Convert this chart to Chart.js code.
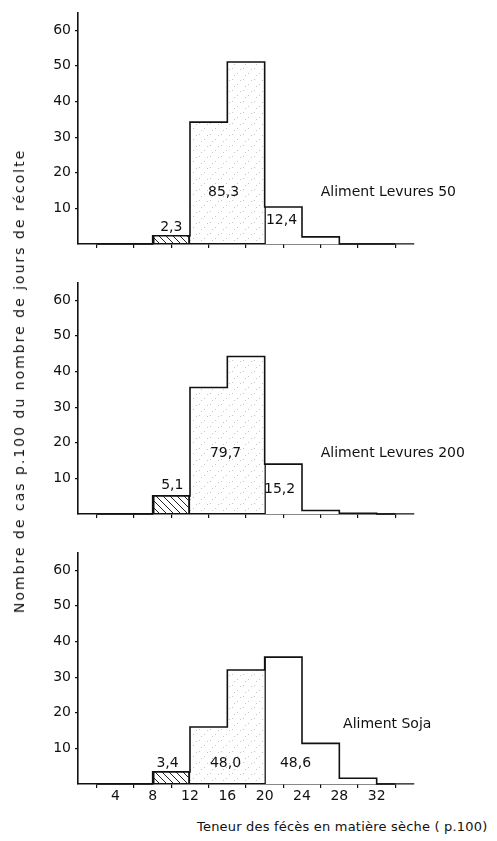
<!DOCTYPE html>
<html>
<head>
<meta charset="utf-8">
<script src="https://cdn.jsdelivr.net/npm/chart.js@4.4.1/dist/chart.umd.min.js"></script>
<style>
  body { margin: 0; background: #fff; width: 497px; height: 841px; position: relative; overflow: hidden; font-family: "DejaVu Sans", sans-serif; color: #111; }
  canvas { position: absolute; left: 0; }
  #ytitle { position: absolute; left: 19px; top: 381px; transform: translate(-50%, -50%) rotate(-90deg); white-space: nowrap; font-size: 14px; letter-spacing: 2px; }
  #xtitle { position: absolute; left: 197px; top: 819px; white-space: nowrap; font-size: 13px; letter-spacing: 0.2px; }
</style>
</head>
<body>
<canvas id="levures50Chart" width="497" height="270" style="top:0px"></canvas>
<canvas id="levures200Chart" width="497" height="270" style="top:270px"></canvas>
<canvas id="sojaChart" width="497" height="270" style="top:540px"></canvas>
<div id="ytitle">Nombre de cas p.100 du nombre de jours de récolte</div>
<div id="xtitle">Teneur des fécès en matière sèche ( p.100)</div>
<script>
// Classes de teneur en matière sèche (début de chaque classe, largeur 4)
const binStarts = [0, 4, 8, 12, 16, 20, 24, 28, 32];

// Nombre de cas p.100 par classe
const levures50 = [0, 0, 2.3, 34.2, 51.1, 10.4, 2.0, 0, 0];
const levures200 = [0, 0, 5.1, 35.5, 44.2, 14.0, 1.0, 0.2, 0];
const soja = [0, 0, 3.4, 16.0, 32.0, 35.6, 11.4, 1.6, 0];

// Totaux par groupe (<12, 12-20, >=20)
const levures50Totals = ['2,3', '85,3', '12,4'];
const levures200Totals = ['5,1', '79,7', '15,2'];
const sojaTotals = ['3,4', '48,0', '48,6'];

const yTicks = [10, 20, 30, 40, 50, 60];
const xTicks = [4, 8, 12, 16, 20, 24, 28, 32];

const ink = '#111';
const font = { family: '"DejaVu Sans", sans-serif', size: 14 };

// motifs : hachures et pointillé
function makeHatch() {
  const c = document.createElement('canvas');
  c.width = 7; c.height = 7;
  const g = c.getContext('2d');
  g.strokeStyle = '#222';
  g.lineWidth = 1;
  g.beginPath();
  g.moveTo(0, 0); g.lineTo(7, 7);
  g.moveTo(-1, 6); g.lineTo(1, 8);
  g.moveTo(6, -1); g.lineTo(8, 1);
  g.stroke();
  return g.createPattern(c, 'repeat');
}
function makeDots() {
  const c = document.createElement('canvas');
  c.width = 11; c.height = 11;
  const g = c.getContext('2d');
  g.fillStyle = 'rgba(0,0,0,0.22)';
  [[1, 2], [6, 7], [9, 3], [3, 9]].forEach(p => g.fillRect(p[0], p[1], 1, 1));
  return g.createPattern(c, 'repeat');
}
const hatch = makeHatch();
const dots = makeDots();

const notesPlugin = {
  id: 'notes',
  afterDatasetsDraw(chart, args, opts) {
    const { ctx, scales: { x, y } } = chart;
    ctx.save();
    ctx.fillStyle = ink;
    ctx.font = '14px "DejaVu Sans", sans-serif';
    ctx.textBaseline = 'middle';
    opts.items.forEach(it => {
      ctx.textAlign = it.align || 'center';
      ctx.fillText(it.text, x.getPixelForValue(it.x), y.getPixelForValue(it.y));
    });
    ctx.restore();
  }
};

function makeHisto(id, values, notes, padTop, showXLabels) {
  const ctx = document.getElementById(id).getContext('2d');
  return new Chart(ctx, {
    type: 'bar',
    data: {
      datasets: [{
        type: 'line',
        data: binStarts.map((b, i) => ({ x: b + 2, y: values[i] })),
        stepped: 'middle',
        borderColor: ink,
        borderWidth: 1.6,
        pointRadius: 0,
        fill: false,
        clip: 4,
        order: 0
      }, {
        type: 'bar',
        data: binStarts.map((b, i) => ({ x: b + 2, y: values[i] })),
        backgroundColor: c => {
          const s = binStarts[c.dataIndex];
          return s < 12 ? hatch : s < 20 ? dots : '#fff';
        },
        borderColor: ink,
        borderSkipped: false,
        borderWidth: c => {
          const s = binStarts[c.dataIndex];
          if (s === 8) return { top: 0, left: 1.5, right: 1.5, bottom: 0 };
          if (s === 20) return { top: 0, left: 1.5, right: 0, bottom: 0 };
          return 0;
        },
        barPercentage: 1,
        categoryPercentage: 1,
        order: 1
      }]
    },
    options: {
      responsive: false,
      animation: false,
      layout: { padding: { top: padTop, right: 83, left: 0, bottom: 0 } },
      plugins: {
        legend: { display: false },
        tooltip: { enabled: false },
        notes: { items: notes }
      },
      scales: {
        x: {
          type: 'linear',
          min: 0,
          max: 36,
          offset: false,
          afterBuildTicks: s => { s.ticks = xTicks.map(v => ({ value: v })); },
          afterFit: s => { s.height = 26; },
          border: { display: true, color: ink, width: 1.6 },
          grid: { drawOnChartArea: false, drawTicks: true, tickLength: 4, color: ink, lineWidth: 1.2 },
          ticks: {
            color: ink,
            font: font,
            padding: 0,
            maxRotation: 0,
            autoSkip: false,
            callback: v => showXLabels ? String(v) : ''
          }
        },
        y: {
          min: 0,
          max: 65,
          afterBuildTicks: s => { s.ticks = yTicks.map(v => ({ value: v })); },
          afterFit: s => { s.width = 78; },
          border: { display: true, color: ink, width: 1.6 },
          grid: { drawOnChartArea: false, drawTicks: true, tickLength: 3, color: ink, lineWidth: 1.2 },
          ticks: { color: ink, font: font, padding: 4 }
        }
      }
    },
    plugins: [notesPlugin]
  });
}

makeHisto('levures50Chart', levures50, [
  { text: levures50Totals[0], x: 10, y: 4.6 },
  { text: levures50Totals[1], x: 15.6, y: 14.6 },
  { text: levures50Totals[2], x: 21.8, y: 6.6 },
  { text: 'Aliment Levures 50', x: 26, y: 14.6, align: 'left' }
], 7, false);

makeHisto('levures200Chart', levures200, [
  { text: levures200Totals[0], x: 10.1, y: 8 },
  { text: levures200Totals[1], x: 15.8, y: 16.9 },
  { text: levures200Totals[2], x: 21.6, y: 7 },
  { text: 'Aliment Levures 200', x: 26, y: 16.9, align: 'left' }
], 4, false);

makeHisto('sojaChart', soja, [
  { text: sojaTotals[0], x: 9.6, y: 5.9 },
  { text: sojaTotals[1], x: 15.8, y: 5.9 },
  { text: sojaTotals[2], x: 23.3, y: 5.9 },
  { text: 'Aliment Soja', x: 28.4, y: 16.7, align: 'left' }
], 2, true);
</script>
</body>
</html>
